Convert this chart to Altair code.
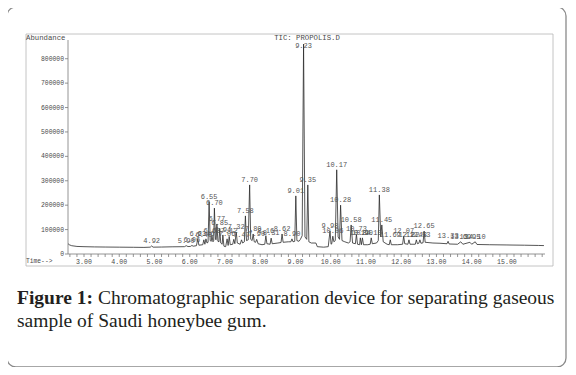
import altair as alt
import pandas as pd

# ---------------- data ----------------
trace_time = [2.55, 2.58, 2.65, 2.80, 3.00, 3.30, 3.60, 4.00, 4.40, 4.70, 4.88, 4.92, 4.96,
              5.20, 5.50, 5.85, 5.90, 5.95, 6.02, 6.06, 6.10, 6.19, 6.23, 6.26, 6.37, 6.40,
              6.43, 6.46, 6.49, 6.52, 6.55, 6.58, 6.61, 6.63, 6.66, 6.68, 6.70, 6.73, 6.75,
              6.77, 6.80, 6.83, 6.85, 6.88, 6.92, 6.94, 6.97, 7.02, 7.06, 7.09, 7.12, 7.15,
              7.22, 7.25, 7.28, 7.32, 7.35, 7.43, 7.47, 7.50, 7.55, 7.58, 7.61, 7.66, 7.70,
              7.73, 7.77, 7.80, 7.83, 7.87, 7.90, 7.94, 8.05, 8.13, 8.16, 8.19, 8.28, 8.31,
              8.34, 8.50, 8.59, 8.62, 8.65, 8.80, 8.87, 8.90, 8.93, 8.98, 9.01, 9.04, 9.10,
              9.14, 9.19, 9.23, 9.27, 9.32, 9.35, 9.38, 9.45, 9.58, 9.62, 9.80, 9.93, 9.98,
              10.01, 10.03, 10.06, 10.09, 10.13, 10.17, 10.21, 10.25, 10.28, 10.32, 10.40,
              10.50, 10.55, 10.58, 10.62, 10.70, 10.73, 10.76, 10.82, 10.84, 10.87, 10.90,
              10.93, 11.05, 11.12, 11.15, 11.18, 11.30, 11.35, 11.38, 11.42, 11.45, 11.49,
              11.60, 11.66, 11.69, 11.72, 11.90, 12.04, 12.07, 12.10, 12.19, 12.22, 12.25,
              12.40, 12.43, 12.46, 12.50, 12.53, 12.56, 12.62, 12.65, 12.68, 12.90, 13.10,
              13.30, 13.33, 13.36, 13.60, 13.69, 13.75, 13.95, 14.00, 14.10, 14.15, 14.50,
              15.00, 15.50, 15.90, 16.05]
trace_abund = [42000, 38000, 34000, 31000, 30000, 29000, 28500, 28000, 27500, 27000, 28000, 33000, 28000,
               28500, 29500, 30000, 34000, 30500, 31000, 35000, 32000, 34000, 62000, 36000, 38000, 58000,
               40000, 62000, 45000, 48000, 215000, 55000, 52000, 75000, 50000, 55000, 188000, 60000, 58000,
               123000, 52000, 50000, 105000, 45000, 40000, 78000, 32000, 30000, 62000, 35000, 72000, 38000,
               40000, 60000, 42000, 90000, 45000, 40000, 58000, 45000, 50000, 156000, 55000, 58000, 283000,
               60000, 55000, 82000, 50000, 48000, 60000, 42000, 38000, 40000, 75000, 42000, 40000, 65000,
               42000, 45000, 47000, 82000, 48000, 50000, 50000, 62000, 50000, 52000, 238000, 55000, 52000,
               60000, 75000, 860000, 70000, 60000, 283000, 50000, 45000, 45000, 30000, 28000, 30000, 94000,
               40000, 42000, 73000, 50000, 55000, 345000, 70000, 60000, 200000, 55000, 50000,
               45000, 50000, 119000, 45000, 42000, 80000, 40000, 38000, 66000, 38000, 66000,
               38000, 38000, 40000, 66000, 42000, 45000, 55000, 242000, 70000, 119000, 50000,
               40000, 38000, 58000, 38000, 38000, 40000, 73000, 42000, 40000, 58000, 40000,
               40000, 58000, 42000, 44000, 58000, 44000, 46000, 94000, 48000, 45000, 44000,
               42000, 52000, 41000, 40000, 50000, 40000, 48000, 40000, 50000, 39000, 38000,
               37000, 36000, 35000, 34500]

peak_time = [4.92, 5.90, 6.06, 6.23, 6.40, 6.46, 6.55, 6.63, 6.70, 6.77, 6.85, 6.94, 7.06, 7.12,
             7.32, 7.47, 7.58, 7.70, 7.80, 7.90, 8.16, 8.31, 8.62, 8.90, 9.01, 9.23, 9.35, 9.98,
             10.06, 10.17, 10.28, 10.58, 10.73, 10.84, 10.90, 11.15, 11.38, 11.45, 11.69, 12.07,
             12.22, 12.43, 12.53, 12.65, 13.33, 13.69, 13.95, 14.10]
peak_abund = [33000, 34000, 35000, 62000, 58000, 62000, 215000, 75000, 188000, 123000, 105000, 78000,
              62000, 72000, 90000, 58000, 156000, 283000, 82000, 60000, 75000, 65000, 82000, 62000,
              238000, 830000, 283000, 94000, 73000, 345000, 200000, 119000, 80000, 66000, 66000,
              66000, 242000, 119000, 58000, 73000, 58000, 58000, 58000, 94000, 52000, 50000, 48000,
              50000]
peak_label = ["4.92", "5.90", "6.06", "6.23", "6.40", "6.46", "6.55", "6.63", "6.70", "6.77", "6.85",
              "6.94", "7.06", "7.12", "7.32", "7.47", "7.58", "7.70", "7.80", "7.90", "8.16", "8.31",
              "8.62", "8.90", "9.01", "9.23", "9.35", "9.98", "10.06", "10.17", "10.28", "10.58",
              "10.73", "10.84", "10.90", "11.15", "11.38", "11.45", "11.69", "12.07", "12.22",
              "12.43", "12.53", "12.65", "13.33", "13.69", "13.95", "14.10"]

y_ticks = [0, 100000, 200000, 300000, 400000, 500000, 600000, 700000, 800000]
y_tick_labels = ["0", "100000", "200000", "300000", "400000", "500000", "600000", "700000", "800000"]
x_major = [3.0, 4.0, 5.0, 6.0, 7.0, 8.0, 9.0, 10.0, 11.0, 12.0, 13.0, 14.0, 15.0]
x_major_labels = ["3.00", "4.00", "5.00", "6.00", "7.00", "8.00", "9.00", "10.00", "11.00",
                  "12.00", "13.00", "14.00", "15.00"]
x_minor = [2.6, 2.8, 3.2, 3.4, 3.6, 3.8, 4.2, 4.4, 4.6, 4.8, 5.2, 5.4, 5.6, 5.8,
           6.2, 6.4, 6.6, 6.8, 7.2, 7.4, 7.6, 7.8, 8.2, 8.4, 8.6, 8.8, 9.2,
           9.4, 9.6, 9.8, 10.2, 10.4, 10.6, 10.8, 11.2, 11.4, 11.6, 11.8, 12.2,
           12.4, 12.6, 12.8, 13.2, 13.4, 13.6, 13.8, 14.2, 14.4, 14.6, 14.8,
           15.2, 15.4, 15.6, 15.8, 16.0]

chart_title = "TIC: PROPOLIS.D"
y_title = "Abundance"
x_title = "Time-->"
caption_bold = "Figure 1:"
caption_line1 = "Chromatographic separation device for separating gaseous"
caption_line2 = "sample of Saudi honeybee gum."

# ---------------- layout ----------------
W, H = 477, 214
X_DOMAIN = [2.546, 16.08]
Y_DOMAIN = [0, 876700]
MONO = "Liberation Mono"
SERIF = "Liberation Serif"
INK = "#4a4a4a"
AXC = "#7a7a7a"

trace_df = pd.DataFrame({"t": trace_time, "a": trace_abund})
peak_df = pd.DataFrame({"t": peak_time, "a": peak_abund, "lab": peak_label})
xtick_df = pd.DataFrame({"t": x_major + x_minor})
xlab_df = pd.DataFrame({"t": x_major, "lab": x_major_labels})
ytick_df = pd.DataFrame({"a": y_ticks, "lab": y_tick_labels})
one = alt.Data(values=[{}])

xs = alt.Scale(domain=X_DOMAIN, nice=False, zero=False)
ys = alt.Scale(domain=Y_DOMAIN, nice=False)

def X(f="t"):
    return alt.X(f + ":Q", scale=xs, axis=None)

def Y(f="a"):
    return alt.Y(f + ":Q", scale=ys, axis=None)

outer = alt.Chart(one).mark_rect(fill="white", fillOpacity=0, stroke="#8a8a8a", strokeWidth=1.3,
                                 cornerRadius=9).encode(
    x=alt.value(-61), x2=alt.value(498), y=alt.value(-33), y2=alt.value(327))

frame = alt.Chart(one).mark_rect(fill="white", fillOpacity=0, stroke="#b5b5b5",
                                 strokeWidth=0.8).encode(
    x=alt.value(-42), x2=alt.value(485), y=alt.value(-6), y2=alt.value(226))

x_domain_line = alt.Chart(one).mark_rule(color=AXC, strokeWidth=0.8).encode(
    x=alt.value(0), x2=alt.value(W), y=alt.value(H))
y_domain_line = alt.Chart(one).mark_rule(color=AXC, strokeWidth=0.8).encode(
    x=alt.value(0), y=alt.value(0), y2=alt.value(H))

x_ticks_m = alt.Chart(xtick_df).mark_rule(color=AXC, strokeWidth=0.8).encode(
    x=X(), y=alt.value(H), y2=alt.value(H + 3))
x_labels_m = alt.Chart(xlab_df).mark_text(font=MONO, fontSize=6.6, color=INK,
                                          align="center", baseline="middle").encode(
    x=X(), y=alt.value(H + 7.5), text="lab:N")
y_ticks_m = alt.Chart(ytick_df).mark_rule(color=AXC, strokeWidth=0.8).encode(
    y=Y(), x=alt.value(-3), x2=alt.value(0))
y_labels_m = alt.Chart(ytick_df).mark_text(font=MONO, fontSize=6.4, color=INK,
                                           align="right", baseline="middle").encode(
    y=Y(), x=alt.value(-4), text="lab:N")

trace = alt.Chart(trace_df).mark_line(color="#2b2b2b", strokeWidth=0.8, clip=True).encode(
    x=X(), y=Y(), order="t:Q")

labels = alt.Chart(peak_df).mark_text(font=MONO, fontSize=7, color="#555", baseline="bottom",
                                      align="center", dy=-2).encode(
    x=X(), y=Y(), text="lab:N")

title_t = alt.Chart(one).mark_text(text=chart_title, font=MONO, fontSize=7.3, color=INK,
                                   align="center", baseline="middle").encode(
    x=alt.value(239), y=alt.value(-2))
ytitle_t = alt.Chart(one).mark_text(text=y_title, font=MONO, fontSize=7.3, color=INK,
                                    align="left", baseline="middle").encode(
    x=alt.value(-42), y=alt.value(-2))
xtitle_t = alt.Chart(one).mark_text(text=x_title, font=MONO, fontSize=6.3, color=INK,
                                    align="left", baseline="middle").encode(
    x=alt.value(-42), y=alt.value(221))

cap_b = alt.Chart(one).mark_text(text=caption_bold, font=SERIF, fontSize=19.5, fontWeight="bold",
                                 color="#231f20", align="left", baseline="alphabetic").encode(
    x=alt.value(-51), y=alt.value(264))
cap_1 = alt.Chart(one).mark_text(text=caption_line1, font=SERIF, fontSize=19.5,
                                 color="#231f20", align="left", baseline="alphabetic").encode(
    x=alt.value(30), y=alt.value(264))
cap_2 = alt.Chart(one).mark_text(text=caption_line2, font=SERIF, fontSize=19.5,
                                 color="#231f20", align="left", baseline="alphabetic").encode(
    x=alt.value(-51), y=alt.value(287))

chart = alt.layer(outer, frame, x_domain_line, y_domain_line, x_ticks_m, x_labels_m,
                  y_ticks_m, y_labels_m, trace, labels, title_t, ytitle_t, xtitle_t,
                  cap_b, cap_1, cap_2).properties(
    width=W, height=H,
    padding={"left": 60, "top": 32, "right": 23, "bottom": 113},
    autosize=alt.AutoSizeParams(type="none"),
    background="white",
).configure_view(stroke="transparent")

chart.save("out.html", embed_options={"renderer": "svg", "actions": False})
